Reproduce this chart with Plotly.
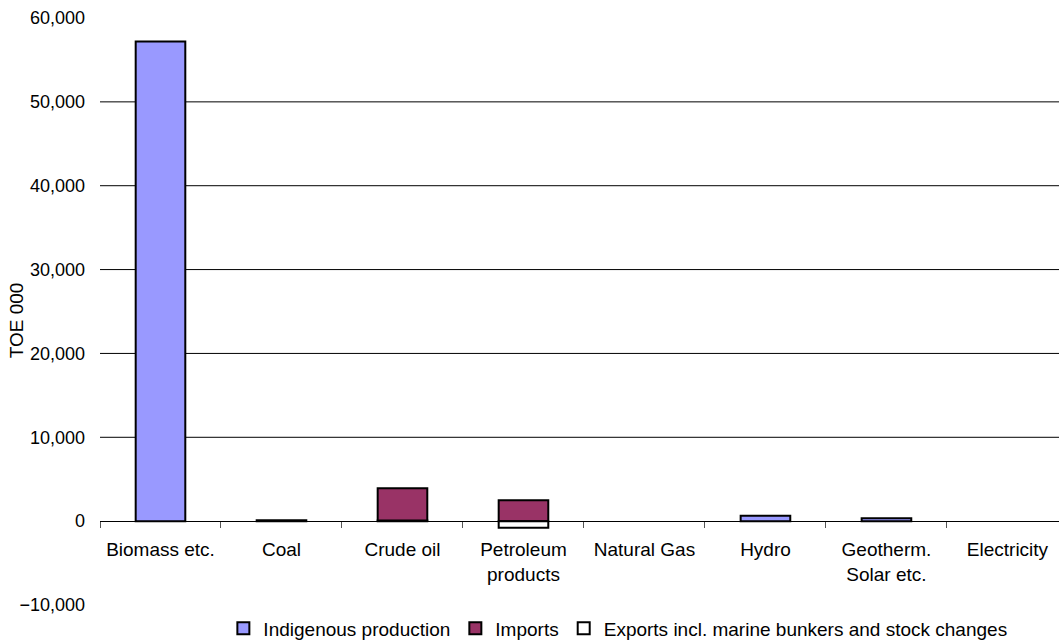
import plotly.graph_objects as go

# Energy supply by source, thousand tonnes of oil equivalent
categories = ["Biomass etc.", "Coal", "Crude oil", "Petroleum<br>products",
              "Natural Gas", "Hydro", "Geotherm.<br>Solar etc.", "Electricity"]
indigenous = [57200, None, 80, None, None, 650, 350, None]
imports = [None, 100, 3850, 2500, None, None, None, None]
exports = [None, None, None, -800, None, None, None, None]

y_ticks = [-10000, 0, 10000, 20000, 30000, 40000, 50000, 60000]
grid_values = [10000, 20000, 30000, 40000, 50000]
y_min, y_max = -10000, 60000

FONT = "Liberation Sans, Arial, sans-serif"
edge = dict(color="black", width=2)

fig = go.Figure()
fig.add_bar(name="Indigenous production", x=categories, y=indigenous,
            marker=dict(color="#9999FF", line=edge))
fig.add_bar(name="Imports", x=categories, y=imports,
            marker=dict(color="#993366", line=edge))
fig.add_bar(name="Exports incl. marine bunkers and stock changes",
            x=categories, y=exports,
            marker=dict(color="#FFFFFF", line=edge))

for v in grid_values:
    fig.add_shape(type="line", xref="paper", x0=0, x1=1, yref="y", y0=v, y1=v,
                  line=dict(color="#000000", width=1), layer="below")

# Vertical axis caption
fig.add_annotation(text="TOE 000", textangle=-90, xref="paper", yref="paper",
                   x=-0.0876, y=0.485, xanchor="center", yanchor="middle",
                   showarrow=False, font=dict(size=19))

fig.update_layout(
    width=1059, height=641,
    margin=dict(l=100, r=0, t=18, b=36, autoexpand=False),
    paper_bgcolor="white", plot_bgcolor="white",
    barmode="relative", bargap=0.59,
    font=dict(family=FONT, size=19, color="black"),
    showlegend=True,
    legend=dict(orientation="h", x=0.54, xanchor="center", y=-0.04,
                yanchor="middle", font=dict(size=19), itemwidth=30,
                traceorder="normal", tracegroupgap=0),
    xaxis=dict(type="category", range=[-0.5, 7.426], showgrid=False,
               showline=True, linecolor="black", linewidth=1,
               ticks="outside", ticklen=6, tickcolor="#555555",
               tickson="boundaries", anchor="free",
               position=(0 - y_min) / (y_max - y_min),
               ticklabelstandoff=11, zeroline=False,
               tickfont=dict(size=19)),
    yaxis=dict(range=[y_min, y_max], tickvals=y_ticks, tickformat=",d",
               showgrid=False, zeroline=False, showline=False, ticks="",
               ticklabelstandoff=14, tickfont=dict(size=18)),
)

fig.write_html("out.html")
